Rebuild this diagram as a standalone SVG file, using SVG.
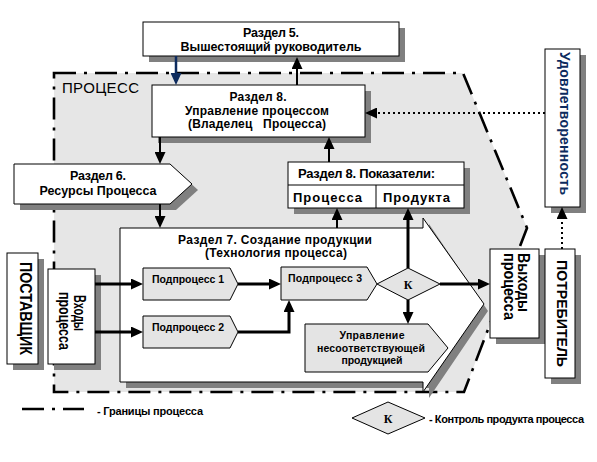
<svg xmlns="http://www.w3.org/2000/svg" width="597" height="462" viewBox="0 0 597 462">
<style>
.t{font-family:"Liberation Sans",Arial,sans-serif;font-weight:bold;fill:#000}
.s{fill:#808080;stroke:none}
.w{fill:#fff;stroke:#000;stroke-width:1}
.g{fill:#e4e4e4;stroke:#000;stroke-width:1}
.k{font-family:"Liberation Serif","Times New Roman",serif;font-weight:bold;font-size:12px;text-anchor:middle}
.thick{stroke:#000;stroke-width:3;fill:none}
.thin{stroke:#000;stroke-width:2;fill:none}
.dot{stroke:#000;stroke-width:2;stroke-dasharray:2 3;fill:none}
.bnd{fill:none;stroke:#000;stroke-width:2.6;stroke-dasharray:22 8 3 8}
</style>
<defs>
<marker id="ah" markerUnits="userSpaceOnUse" markerWidth="12" markerHeight="11" refX="8" refY="5.5" orient="auto"><path d="M0,0 L12,5.5 L0,11 z" fill="#000"/></marker>
<marker id="ahn" markerUnits="userSpaceOnUse" markerWidth="12" markerHeight="11" refX="8" refY="5.5" orient="auto"><path d="M0,0 L12,5.5 L0,11 z" fill="#0d2b5e"/></marker>
</defs>
<rect width="597" height="462" fill="#fff"/>
<g id="process">
<polygon points="54,73 463,73 527,228 464,392 54,392" fill="#e6e6e6"/>
<polygon class="bnd" points="54,73 463,73 527,228 464,392 54,392"/>
<text class="t" x="62" y="93" font-size="15" style="font-weight:normal" textLength="77">ПРОЦЕСС</text>
</g>
<g id="razdel5">
<rect class="s" x="149" y="28" width="256" height="34"/>
<rect class="w" x="143" y="22" width="256" height="34"/>
<text class="t" x="271" y="37" font-size="12.5" text-anchor="middle" textLength="56">Раздел 5.</text>
<text class="t" x="271" y="51" font-size="12.5" text-anchor="middle" textLength="181">Вышестоящий руководитель</text>
</g>
<g id="razdel8">
<rect class="s" x="158" y="91" width="213" height="52"/>
<rect class="w" x="152" y="85" width="213" height="52"/>
<text class="t" x="258" y="101" font-size="12" text-anchor="middle" textLength="57">Раздел 8.</text>
<text class="t" x="257" y="115" font-size="12" text-anchor="middle" textLength="144">Управление процессом</text>
<text class="t" x="257" y="128" font-size="12" text-anchor="middle" textLength="138" xml:space="preserve">(Владелец   Процесса)</text>
</g>
<g id="udovl">
<rect class="s" x="551" y="55" width="35" height="158"/>
<rect class="w" x="545" y="49" width="35" height="158"/>
<text class="t" transform="translate(560,52) rotate(90)" font-size="14" style="fill:#0d2b5e" textLength="143">Удовлетворенность</text>
</g>
<g id="pokazateli">
<rect class="s" x="294" y="168" width="176" height="46"/>
<rect class="w" x="288" y="162" width="176" height="46"/>
<line x1="288" y1="185" x2="464" y2="185" stroke="#000"/>
<line x1="376" y1="185" x2="376" y2="208" stroke="#000"/>
<text class="t" x="298" y="178" font-size="13" textLength="137">Раздел 8. Показатели:</text>
<text class="t" x="293" y="202" font-size="13" textLength="69">Процесса</text>
<text class="t" x="383" y="202" font-size="13" textLength="67">Продукта</text>
</g>
<g id="razdel6">
<polygon class="s" points="20,170 176,170 198,190 176,210 20,210"/>
<polygon class="w" points="14,164 170,164 192,184 170,204 14,204"/>
<text class="t" x="98" y="180" font-size="12.5" text-anchor="middle" textLength="56">Раздел 6.</text>
<text class="t" x="98" y="195" font-size="12.5" text-anchor="middle" textLength="117">Ресурсы Процесса</text>
</g>
<g id="razdel7">
<polygon class="s" points="126,234 429,234 429,224 488,311 429,398 429,388 126,388"/>
<polygon class="w" points="120,228 423,228 423,218 484,304 423,392 423,382 120,382"/>
<text class="t" x="275" y="244" font-size="12" text-anchor="middle" textLength="194">Раздел 7. Создание продукции</text>
<text class="t" x="276" y="257" font-size="12" text-anchor="middle" textLength="142">(Технология процесса)</text>
</g>
<g id="pp1">
<polygon class="g" points="143,268 230,268 238,284 230,300 143,300"/>
<text class="t" x="152" y="283" font-size="10.5" textLength="72">Подпроцесс 1</text>
</g>
<g id="pp2">
<polygon class="g" points="143,316 230,316 238,332 230,348 143,348"/>
<text class="t" x="152" y="331" font-size="10.5" textLength="72">Подпроцесс 2</text>
</g>
<g id="pp3">
<polygon class="g" points="281,267 367,267 377,284 367,300 281,300"/>
<text class="t" x="288" y="282" font-size="10.5" textLength="74">Подпроцесс 3</text>
</g>
<g id="kontrol">
<polygon class="g" points="377,284 408,268 440,284 408,300"/>
<text class="k" x="408" y="289">К</text>
</g>
<g id="upravlenie">
<polygon class="g" points="305,324 428,324 448,348 428,372 305,372"/>
<text class="t" x="372" y="339" font-size="10.5" text-anchor="middle" textLength="65">Управление</text>
<text class="t" x="371" y="352" font-size="10.5" text-anchor="middle" textLength="108">несоответствующей</text>
<text class="t" x="372" y="364" font-size="10.5" text-anchor="middle" textLength="61">продукцией</text>
</g>
<g id="postavshik">
<rect class="s" x="13" y="259" width="31" height="111"/>
<rect class="w" x="7" y="253" width="31" height="111"/>
<text class="t" transform="translate(20,262) rotate(90)" font-size="16" textLength="93" lengthAdjust="spacingAndGlyphs">ПОСТАВЩИК</text>
</g>
<g id="vhody">
<rect class="s" x="54" y="275" width="47" height="95"/>
<rect class="w" x="48" y="269" width="47" height="95"/>
<text class="t" transform="translate(74,295) rotate(90)" font-size="17" textLength="36" lengthAdjust="spacingAndGlyphs">Входы</text>
<text class="t" transform="translate(59,292) rotate(90)" font-size="17" textLength="58" lengthAdjust="spacingAndGlyphs">процесса</text>
</g>
<g id="vyhody">
<rect class="s" x="496" y="255" width="49" height="89"/>
<rect class="w" x="490" y="249" width="49" height="89"/>
<text class="t" transform="translate(518,253) rotate(90)" font-size="16" textLength="59" lengthAdjust="spacingAndGlyphs">Выходы</text>
<text class="t" transform="translate(504,253) rotate(90)" font-size="16" textLength="67" lengthAdjust="spacingAndGlyphs">процесса</text>
</g>
<g id="potrebitel">
<rect class="s" x="551" y="255" width="30" height="129"/>
<rect class="w" x="545" y="249" width="30" height="129"/>
<text class="t" transform="translate(557,260) rotate(90)" font-size="15" textLength="107" lengthAdjust="spacingAndGlyphs">ПОТРЕБИТЕЛЬ</text>
</g>
<g id="connectors">
<line x1="176" y1="56" x2="176" y2="81" stroke="#0d2b5e" stroke-width="2.5" marker-end="url(#ahn)"/>
<line class="thin" x1="297" y1="85" x2="297" y2="61" marker-end="url(#ah)"/>
<line class="thin" x1="160" y1="137" x2="160" y2="160" marker-end="url(#ah)"/>
<line class="thin" x1="160" y1="204" x2="160" y2="224" marker-end="url(#ah)"/>
<line class="thin" x1="329" y1="162" x2="329" y2="141" marker-end="url(#ah)"/>
<line class="thin" x1="337" y1="228" x2="337" y2="212" marker-end="url(#ah)"/>
<line class="dot" x1="545" y1="113" x2="369" y2="113" marker-end="url(#ah)"/>
<line class="dot" x1="562" y1="249" x2="562" y2="211" marker-end="url(#ah)"/>
<line class="thick" x1="95" y1="284" x2="139" y2="284" marker-end="url(#ah)"/>
<line class="thick" x1="95" y1="332" x2="139" y2="332" marker-end="url(#ah)"/>
<line class="thick" x1="238" y1="284" x2="277" y2="284" marker-end="url(#ah)"/>
<polyline class="thick" points="238,332 289,332 289,304" marker-end="url(#ah)"/>
<line class="thick" x1="440" y1="284" x2="486" y2="284" marker-end="url(#ah)"/>
<line class="thick" x1="408" y1="268" x2="408" y2="212" marker-end="url(#ah)"/>
<line class="thick" x1="408" y1="300" x2="408" y2="320" marker-end="url(#ah)"/>
</g>
<g id="legend">
<line class="bnd" x1="22" y1="409" x2="84" y2="409"/>
<text class="t" x="97" y="415" font-size="11" textLength="106">- Границы процесса</text>
<polygon class="g" points="352,418 388,402 425,418 388,434"/>
<text class="k" x="388" y="423">К</text>
<text class="t" x="429" y="423" font-size="11" textLength="155">- Контроль продукта процесса</text>
</g>
</svg>
